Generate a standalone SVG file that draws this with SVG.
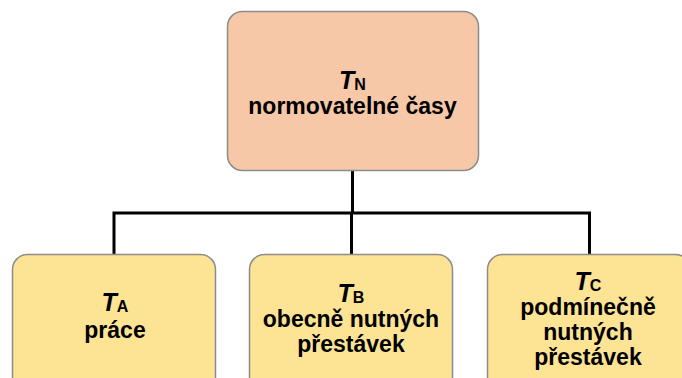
<svg xmlns="http://www.w3.org/2000/svg" width="682" height="378" viewBox="0 0 682 378">
  <style>
    .box { stroke: #8c8c8c; stroke-width: 1.5; }
    .top { fill: #f6c8a8; }
    .sub { fill: #fde394; }
    .wire { fill: none; stroke: #000; stroke-width: 3; stroke-linecap: square; }
    text { font-family: "Liberation Sans", Arial, sans-serif; font-weight: bold; font-size: 23px; fill: #000; text-anchor: middle; }
    .sym { font-style: italic; font-size: 25px; }
    .idx { font-style: normal; font-size: 16px; }
  </style>

  <g id="connectors">
    <path class="wire" d="M352.5,171 V213 M114,213 H589.5 M114,213 V253 M351.5,213 V253 M589.5,213 V253"/>
  </g>

  <g id="node-tn">
    <rect class="box top" x="227.5" y="11.5" width="251" height="159" rx="15"/>
    <text x="352.5" y="89"><tspan class="sym">T</tspan><tspan class="idx" dy="1">N</tspan></text>
    <text x="352.5" y="114">normovatelné časy</text>
  </g>

  <g id="node-ta">
    <rect class="box sub" x="12.5" y="254.5" width="203" height="150" rx="15"/>
    <text x="115" y="311"><tspan class="sym">T</tspan><tspan class="idx" dy="1">A</tspan></text>
    <text x="115" y="338">práce</text>
  </g>

  <g id="node-tb">
    <rect class="box sub" x="249.5" y="254.5" width="203" height="150" rx="15"/>
    <text x="351" y="302"><tspan class="sym">T</tspan><tspan class="idx" dy="1">B</tspan></text>
    <text x="351" y="327">obecně nutných</text>
    <text x="351" y="352">přestávek</text>
  </g>

  <g id="node-tc">
    <rect class="box sub" x="487.5" y="254.5" width="203" height="150" rx="15"/>
    <text x="588" y="290"><tspan class="sym">T</tspan><tspan class="idx" dy="1">C</tspan></text>
    <text x="588" y="315">podmínečně</text>
    <text x="588" y="340">nutných</text>
    <text x="588" y="365">přestávek</text>
  </g>
</svg>
